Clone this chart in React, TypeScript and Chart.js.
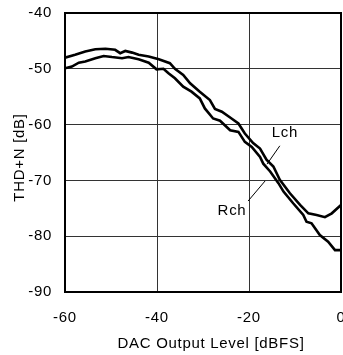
import React, { useEffect, useRef } from "react";
import { Chart, registerables } from "chart.js";

Chart.register(...registerables);

const xTicks = [-60, -40, -20, 0];
const yTicks = [-90, -80, -70, -60, -50, -40];
const xTitle = "DAC Output Level [dBFS]";
const yTitle = "THD+N [dB]";

const lchX = [-60, -57.8, -55.6, -53.4, -51.2, -49.1, -48.0, -46.9, -45.4, -44.0, -41.8, -39.6, -37.2, -36.1, -34.3, -32.8, -30.7, -28.5, -27.4, -25.9, -23.8, -22.3, -20.9, -19.1, -17.6, -16.2, -14.7, -13.3, -11.1, -8.9, -7.1, -5.3, -3.5, -2.0, 0];
const lchY = [-48.0, -47.5, -46.9, -46.5, -46.4, -46.6, -47.2, -46.8, -47.1, -47.5, -47.8, -48.3, -49.0, -50.0, -51.1, -52.6, -54.1, -55.6, -57.2, -57.7, -58.9, -59.8, -61.6, -63.3, -64.3, -66.3, -67.5, -69.9, -72.3, -74.4, -75.9, -76.2, -76.6, -75.9, -74.4];

const rchX = [-60, -58.5, -57.0, -55.6, -53.4, -51.6, -49.8, -47.6, -46.2, -44.0, -41.8, -40.1, -38.6, -37.5, -36.1, -34.3, -32.5, -30.7, -29.6, -27.8, -26.3, -24.1, -22.3, -20.9, -19.4, -17.6, -16.9, -15.4, -13.6, -12.5, -10.4, -8.2, -7.5, -6.4, -4.6, -2.8, -1.3, 0];
const rchY = [-49.9, -49.6, -48.9, -48.7, -48.1, -47.7, -47.9, -48.1, -47.9, -48.3, -48.9, -50.1, -50.0, -50.8, -51.7, -53.2, -54.1, -55.3, -57.1, -58.9, -59.3, -61.0, -61.3, -63.1, -64.0, -65.8, -67.0, -68.4, -70.5, -72.0, -74.1, -76.2, -77.4, -77.7, -79.8, -81.0, -82.5, -82.5];

const seriesNames = ["Lch", "Rch"];
// label text position and leader line (data coordinates)
const labelText = [-12.2, -61.4, -23.7, -75.5]; // Lch x,y ; Rch x,y
const lchLeader = [-13.3, -63.8, -16.1, -67.1];
const rchLeader = [-20.2, -73.7, -16.5, -70.1];

const FONT = "'Liberation Sans', Arial, sans-serif";
const SPACING = "0.7px";

const toPoints = (xs: number[], ys: number[]) => xs.map((x, i) => ({ x, y: ys[i] }));

const frameAndLabels = {
  id: "frameAndLabels",
  beforeDraw(chart: any) {
    (chart.ctx as any).letterSpacing = SPACING;
  },
  afterDraw(chart: any) {
    const { ctx, chartArea, scales } = chart;
    const xs = scales.x;
    const ys = scales.y;
    ctx.save();
    (ctx as any).letterSpacing = SPACING;
    ctx.strokeStyle = "#000";
    ctx.lineWidth = 2;
    ctx.strokeRect(chartArea.left, chartArea.top, chartArea.right - chartArea.left, chartArea.bottom - chartArea.top);
    // leaders
    ctx.lineWidth = 1;
    [lchLeader, rchLeader].forEach((l) => {
      ctx.beginPath();
      ctx.moveTo(xs.getPixelForValue(l[0]), ys.getPixelForValue(l[1]));
      ctx.lineTo(xs.getPixelForValue(l[2]), ys.getPixelForValue(l[3]));
      ctx.stroke();
    });
    ctx.fillStyle = "#000";
    ctx.font = `15px ${FONT}`;
    ctx.textAlign = "center";
    ctx.textBaseline = "middle";
    ctx.fillText(seriesNames[0], xs.getPixelForValue(labelText[0]), ys.getPixelForValue(labelText[1]));
    ctx.fillText(seriesNames[1], xs.getPixelForValue(labelText[2]), ys.getPixelForValue(labelText[3]));
    // axis titles
    ctx.textBaseline = "alphabetic";
    ctx.fillText(xTitle, (chartArea.left + chartArea.right) / 2 + 8, 348.3);
    ctx.save();
    ctx.translate(23.5, (chartArea.top + chartArea.bottom) / 2 + 5);
    ctx.rotate(-Math.PI / 2);
    ctx.fillText(yTitle, 0, 0);
    ctx.restore();
    ctx.restore();
  },
};

export default function App() {
  const ref = useRef<HTMLCanvasElement | null>(null);
  useEffect(() => {
    if (!ref.current) return;
    const chart = new Chart(ref.current, {
      type: "line",
      data: {
        datasets: [
          {
            label: seriesNames[0],
            data: toPoints(lchX, lchY),
            borderColor: "#000",
            borderWidth: 2.6,
            pointRadius: 0,
            tension: 0,
            fill: false,
          },
          {
            label: seriesNames[1],
            data: toPoints(rchX, rchY),
            borderColor: "#000",
            borderWidth: 2.6,
            pointRadius: 0,
            tension: 0,
            fill: false,
          },
        ],
      },
      options: {
        animation: false,
        responsive: false,
        devicePixelRatio: 1,
        layout: { padding: { top: 13, right: 2, left: 0, bottom: 0 } },
        plugins: { legend: { display: false }, tooltip: { enabled: false } },
        scales: {
          x: {
            type: "linear",
            min: -60,
            max: 0,
            afterBuildTicks: (s: any) => {
              s.ticks = xTicks.map((v) => ({ value: v }));
            },
            afterFit: (s: any) => {
              s.height = 63;
              s.paddingLeft = 0;
              s.paddingRight = 0;
            },
            grid: { color: "#333", lineWidth: 1, drawTicks: false },
            border: { display: false },
            ticks: { color: "#000", font: { family: FONT, size: 15 }, padding: 17, maxRotation: 0 },
            title: { display: false },
          },
          y: {
            type: "linear",
            min: -90,
            max: -40,
            afterBuildTicks: (s: any) => {
              s.ticks = yTicks.map((v) => ({ value: v }));
            },
            afterFit: (s: any) => {
              s.width = 65;
              s.paddingTop = 0;
              s.paddingBottom = 0;
            },
            grid: { color: "#333", lineWidth: 1, drawTicks: false },
            border: { display: false },
            ticks: { color: "#000", font: { family: FONT, size: 15 }, padding: 13 },
            title: { display: false },
          },
        },
      },
      plugins: [frameAndLabels],
    });
    return () => chart.destroy();
  }, []);
  return (
    <div style={{ position: "fixed", left: 0, top: 0, width: 343, height: 355, background: "#fff" }}>
      <canvas ref={ref} width={343} height={355} style={{ width: 343, height: 355, display: "block" }} />
    </div>
  );
}
